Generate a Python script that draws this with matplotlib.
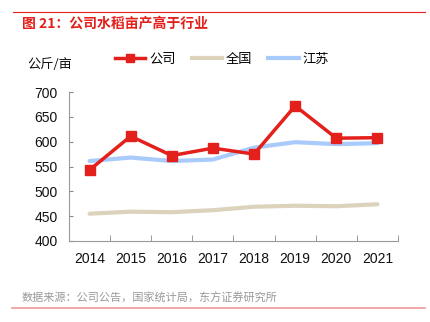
import matplotlib.pyplot as plt
from matplotlib.lines import Line2D
import numpy as np

plt.rcParams['font.family'] = ['Noto Sans CJK SC', 'DejaVu Sans']

years = ['2014', '2015', '2016', '2017', '2018', '2019', '2020', '2021']
company = [543, 611, 572, 587, 575, 672, 607, 608]
national = [455, 459, 458, 462, 469, 471, 470, 474]
jiangsu = [561, 568, 561, 564, 588, 599, 595, 597]

RED = '#e3201b'
BEIGE = '#ddd3bc'
BLUE = '#a9cbfb'

fig = plt.figure(figsize=(4.31, 3.22), dpi=100)
W, H = 431, 322
ax = fig.add_axes([69 / W, 1 - 241 / H, (398 - 69) / W, (241 - 92) / H])

x = np.arange(len(years))
ax.plot(x, national, color=BEIGE, lw=3, solid_capstyle='round', zorder=2)
ax.plot(x, jiangsu, color=BLUE, lw=3, solid_capstyle='round', zorder=3)
ax.plot(x, company, color=RED, lw=2.5, marker='s', ms=7, zorder=4)

ax.set_xlim(-0.5, len(years) - 0.5)
ax.set_ylim(400, 700)
ax.set_yticks(range(400, 701, 50))
ax.set_xticks(x)
ax.set_xticklabels(years)
ax.set_xticks(np.arange(-0.5, len(years), 1), minor=True)
ax.tick_params(axis='x', which='major', length=0, pad=8)
ax.tick_params(axis='x', which='minor', length=4, direction='in', color='#888888')
ax.tick_params(axis='y', length=3, direction='in', color='#888888', pad=8)
for lab in ax.get_xticklabels() + ax.get_yticklabels():
    lab.set_fontfamily(['Liberation Sans', 'DejaVu Sans'])
    lab.set_fontsize(10)
    lab.set_color('#111111')
for s in ['top', 'right']:
    ax.spines[s].set_visible(False)
for s in ['left', 'bottom']:
    ax.spines[s].set_color('#999999')
    ax.spines[s].set_linewidth(0.8)

# header and footer
fig.add_artist(Line2D([13 / W, 425 / W], [1 - 12 / H, 1 - 12 / H], color=RED, lw=0.8))
fig.text(22 / W, 1 - 24 / H, '图 21：公司水稻亩产高于行业', color=RED, fontsize=10,
         fontweight='bold', va='center', ha='left')
fig.text(27 / W, 1 - 65 / H, '公斤/亩', color='#111111', fontsize=9.5, va='center', ha='left')
fig.text(22 / W, 1 - 298 / H, '数据来源：公司公告，国家统计局，东方证券研究所', color='#999999',
         fontsize=8, va='center', ha='left')
fig.add_artist(Line2D([12 / W, 425 / W], [1 - 308 / H, 1 - 308 / H], color='#f09a9a', lw=1.2))

handles = [
    Line2D([], [], color=RED, lw=2.5, marker='s', ms=6),
    Line2D([], [], color=BEIGE, lw=3),
    Line2D([], [], color=BLUE, lw=3),
]
fig.legend(handles, ['公司', '全国', '江苏'], loc='center', bbox_to_anchor=(222 / W, 1 - 59 / H),
           ncol=3, frameon=False, fontsize=9.5, handlelength=2.3, handletextpad=0.3,
           columnspacing=1.2)

fig.savefig('out.png', dpi=100)
